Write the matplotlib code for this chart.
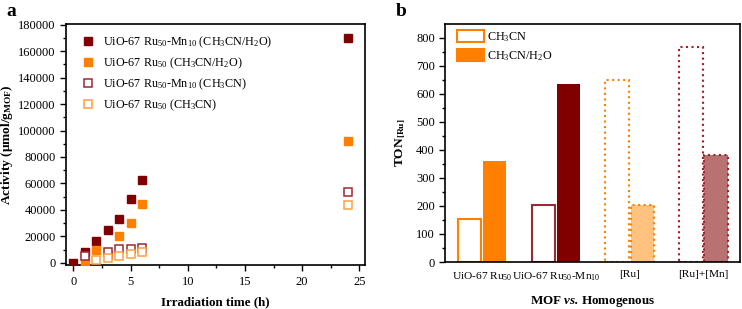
import matplotlib

matplotlib.use("Agg")
import matplotlib.pyplot as plt
from matplotlib.patches import Patch
from matplotlib.ticker import MultipleLocator

plt.rcParams["font.family"] = ["Liberation Serif", "DejaVu Serif"]
plt.rcParams["mathtext.fontset"] = "custom"
plt.rcParams["mathtext.rm"] = "Liberation Serif"
plt.rcParams["mathtext.it"] = "Liberation Serif:italic"
plt.rcParams["mathtext.bf"] = "Liberation Serif:bold"
plt.rcParams["mathtext.bfit"] = "Liberation Serif:italic:bold"

# panel a: activity vs irradiation time
t_mn_h2o = [0, 1, 2, 3, 4, 5, 6, 24]
act_mn_h2o = [0, 8000, 16500, 25000, 32750, 48500, 62250, 170000]
t_ru_h2o = [1, 2, 3, 4, 5, 6, 24]
act_ru_h2o = [1500, 9500, 6000, 20000, 30000, 44750, 92000]
t_mn_mecn = [1, 3, 4, 5, 6, 24]
act_mn_mecn = [5000, 8300, 10250, 10750, 11000, 53250]
t_ru_mecn = [2, 3, 4, 5, 6, 24]
act_ru_mecn = [2250, 3500, 5000, 6750, 8500, 43750]

labels_a = [
    "UiO-67 Ru$_{50}$-Mn$_{10}$ (CH$_3$CN/H$_2$O)",
    "UiO-67 Ru$_{50}$ (CH$_3$CN/H$_2$O)",
    "UiO-67 Ru$_{50}$-Mn$_{10}$ (CH$_3$CN)",
    "UiO-67 Ru$_{50}$ (CH$_3$CN)",
]

# panel b: TON per catalyst
groups = ["UiO-67 Ru$_{50}$", "UiO-67 Ru$_{50}$-Mn$_{10}$", "[Ru]", "[Ru]+[Mn]"]
ton_mecn = [155, 205, 650, 765]
ton_h2o = [360, 635, 205, 383]

DARK = "#800000"
DARK_EDGE = "#9b2a35"
ORANGE = "#ff8000"
FS = 8.7

fig = plt.figure(figsize=(7.42, 3.09), dpi=100)
ax1 = fig.add_axes([0.089, 0.142, 0.403, 0.780])
ax2 = fig.add_axes([0.600, 0.152, 0.397, 0.770])

ms = 5.2
ax1.plot(t_mn_h2o, act_mn_h2o, "s", color=DARK, ms=ms, mec=DARK, label=labels_a[0], zorder=3)
ax1.plot(t_ru_h2o, act_ru_h2o, "s", color=ORANGE, ms=ms, mec=ORANGE, label=labels_a[1], zorder=3)
ax1.plot(t_mn_mecn, act_mn_mecn, "s", mfc="white", mec=DARK_EDGE, mew=1.1, ms=ms,
         label=labels_a[2], zorder=4)
ax1.plot(t_ru_mecn, act_ru_mecn, "s", mfc="white", mec="#ffa040", mew=1.1, ms=ms,
         label=labels_a[3], zorder=5)

ax1.set_xlim(-0.65, 25.5)
ax1.set_ylim(-1800, 180500)
ax1.xaxis.set_major_locator(MultipleLocator(5))
ax1.xaxis.set_minor_locator(MultipleLocator(2.5))
ax1.yaxis.set_major_locator(MultipleLocator(20000))
ax1.yaxis.set_minor_locator(MultipleLocator(10000))
ax1.tick_params(labelsize=FS + 0.3, length=4, width=1)
ax1.tick_params(which="minor", length=2.5, width=1)
ax1.set_xlabel("Irradiation time (h)", fontsize=9.4, fontweight="bold", labelpad=6)
ax1.set_ylabel("Activity ($\\mathbf{\\mu}$mol/g$_{\\mathbf{MOF}}$)", fontsize=9.6,
               fontweight="bold")
ax1.yaxis.set_label_coords(-0.172, 0.5)
ax1.legend(loc="upper left", frameon=False, fontsize=FS, handlelength=1.0,
           handletextpad=0.75, borderaxespad=0, borderpad=0, labelspacing=0.45,
           bbox_to_anchor=(0.052, 0.955))

# bars
x = list(range(len(groups)))
w = 0.32
off = 0.17
edge_mecn = [ORANGE, DARK_EDGE, ORANGE, "#a0202a"]
fill_h2o = [ORANGE, DARK, "#ffc27f", "#b87272"]
edge_h2o = [ORANGE, DARK, ORANGE, "#a0202a"]
styles = ["-", "-", ":", ":"]
for i in x:
    ax2.bar(i - off, ton_mecn[i], width=w, facecolor="white", edgecolor=edge_mecn[i],
            linewidth=1.5, linestyle=styles[i])
    ax2.bar(i + off, ton_h2o[i], width=w, facecolor=fill_h2o[i], edgecolor=edge_h2o[i],
            linewidth=1.5 if styles[i] == ":" else 0, linestyle=styles[i])

ax2.set_xlim(-0.5, 3.49)
ax2.set_ylim(0, 848)
ax2.set_xticks(x)
ax2.set_xticklabels(groups)
ax2.yaxis.set_major_locator(MultipleLocator(100))
ax2.yaxis.set_minor_locator(MultipleLocator(50))
ax2.tick_params(axis="y", labelsize=FS + 0.3, length=4, width=1)
ax2.tick_params(axis="y", which="minor", length=2.5, width=1)
ax2.tick_params(axis="x", labelsize=8.2, length=0, pad=6)
ax2.set_xlabel("MOF $\\mathbfit{vs.}\\,$Homogenous", fontsize=9.4, fontweight="bold",
               labelpad=8)
ax2.set_ylabel("TON$_{\\mathbf{[Ru]}}$", fontsize=9.6, fontweight="bold")
ax2.yaxis.set_label_coords(-0.125, 0.5)
handles = [Patch(facecolor="white", edgecolor=ORANGE, linewidth=1.5),
           Patch(facecolor=ORANGE, edgecolor=ORANGE, linewidth=1.5)]
ax2.legend(handles, ["CH$_3$CN", "CH$_3$CN/H$_2$O"], loc="upper left", frameon=False,
           fontsize=FS, handlelength=2.2, handleheight=1.1, handletextpad=0.3,
           labelspacing=0.45, borderaxespad=0, borderpad=0,
           bbox_to_anchor=(0.04, 0.975))

for ax in (ax1, ax2):
    for s in ax.spines.values():
        s.set_linewidth(1.2)

fig.text(6 / 742, 1 - 3 / 309, "a", fontsize=14, fontweight="bold", va="top")
fig.text(396 / 742, 1 - 3 / 309, "b", fontsize=14, fontweight="bold", va="top")

fig.savefig("out.png", dpi=100)
